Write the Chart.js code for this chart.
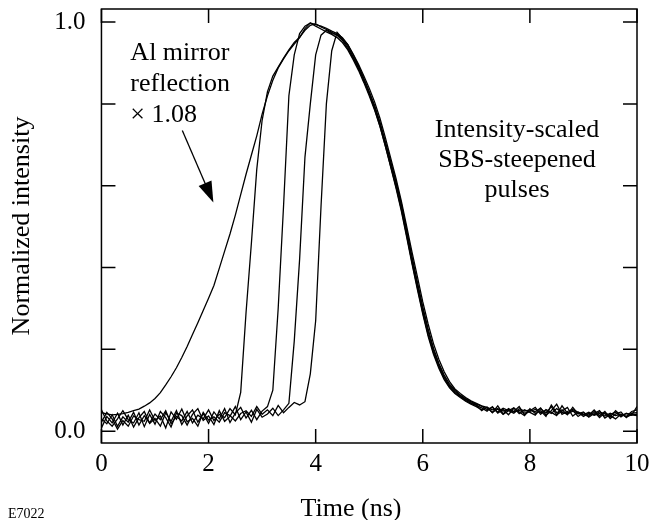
<!DOCTYPE html>
<html>
<head>
<title>SBS-steepened pulses</title>
<script src="https://cdn.jsdelivr.net/npm/chart.js@4.4.1/dist/chart.umd.min.js"></script>
<style>
    body { margin: 0; background: #ffffff; }
</style>
</head>
<body>
<canvas id="pulseChart" width="662" height="520"></canvas>

<script>
    /////// Data ///////
    const timeNs = [
        0.0,0.1,0.2,0.3,0.4,0.5,0.6,0.7,0.8,0.9,
        1.0,1.1,1.2,1.3,1.4,1.5,1.6,1.7,1.8,1.9,
        2.0,2.1,2.2,2.3,2.4,2.5,2.6,2.7,2.8,2.9,
        3.0,3.1,3.2,3.3,3.4,3.5,3.6,3.7,3.8,3.9,
        4.0,4.1,4.2,4.3,4.4,4.5,4.6,4.7,4.8,4.9,
        5.0,5.1,5.2,5.3,5.4,5.5,5.6,5.7,5.8,5.9,
        6.0,6.1,6.2,6.3,6.4,6.5,6.6,6.7,6.8,6.9,
        7.0,7.1,7.2,7.3,7.4,7.5,7.6,7.7,7.8,7.9,
        8.0,8.1,8.2,8.3,8.4,8.5,8.6,8.7,8.8,8.9,
        9.0,9.1,9.2,9.3,9.4,9.5,9.6,9.7,9.8,9.9,
        10.0
    ];

    // Al mirror reflection x 1.08
    const alMirror = [
        0.045,0.042,0.040,0.041,0.043,0.046,0.050,0.054,0.061,0.069,
        0.080,0.094,0.113,0.133,0.155,0.180,0.207,0.236,0.265,0.295,
        0.325,0.356,0.398,0.440,0.482,0.528,0.578,0.628,0.675,0.722,
        0.775,0.820,0.858,0.888,0.910,0.930,0.946,0.962,0.984,0.998,
        0.994,0.990,0.985,0.978,0.972,0.962,0.945,0.922,0.897,0.868,
        0.838,0.805,0.765,0.718,0.668,0.618,0.562,0.500,0.437,0.377,
        0.316,0.262,0.214,0.176,0.145,0.121,0.103,0.092,0.082,0.074,
        0.068,0.062,0.058,0.052,0.055,0.049,0.053,0.047,0.051,0.044,
        0.048,0.053,0.045,0.050,0.043,0.055,0.046,0.042,0.049,0.044,
        0.040,0.046,0.039,0.043,0.037,0.044,0.038,0.041,0.036,0.048,
        0.052
    ];

    // SBS-steepened pulses, intensity-scaled
    const sbsPulse1 = [
        0.030,0.018,0.040,0.012,0.035,0.022,0.046,0.015,0.038,0.020,
        0.042,0.028,0.050,0.018,0.036,0.025,0.048,0.020,0.039,0.030,
        0.052,0.026,0.041,0.033,0.055,0.040,0.095,0.290,0.460,0.640,
        0.760,0.830,0.868,0.890,0.912,0.932,0.950,0.963,0.980,0.992,
        0.996,0.988,0.982,0.975,0.968,0.955,0.935,0.912,0.886,0.856,
        0.824,0.788,0.746,0.698,0.646,0.594,0.538,0.474,0.408,0.346,
        0.286,0.232,0.188,0.154,0.126,0.106,0.092,0.082,0.073,0.066,
        0.060,0.052,0.058,0.046,0.054,0.041,0.050,0.057,0.043,0.052,
        0.046,0.039,0.055,0.044,0.060,0.040,0.049,0.058,0.037,0.047,
        0.041,0.036,0.048,0.033,0.045,0.038,0.030,0.042,0.035,0.040,
        0.038
    ];
    const sbsPulse2 = [
        0.008,0.036,0.020,0.044,0.015,0.039,0.010,0.033,0.048,0.019,
        0.031,0.012,0.045,0.024,0.050,0.016,0.037,0.052,0.022,0.043,
        0.019,0.047,0.030,0.055,0.021,0.044,0.058,0.032,0.051,0.028,
        0.049,0.060,0.100,0.300,0.550,0.820,0.920,0.972,0.990,0.998,
        0.990,0.983,0.976,0.970,0.962,0.950,0.932,0.908,0.882,0.852,
        0.820,0.785,0.745,0.697,0.648,0.598,0.542,0.478,0.412,0.350,
        0.290,0.236,0.192,0.158,0.129,0.108,0.094,0.084,0.075,0.068,
        0.063,0.057,0.049,0.060,0.044,0.053,0.040,0.056,0.047,0.038,
        0.055,0.043,0.050,0.036,0.064,0.045,0.052,0.040,0.058,0.042,
        0.047,0.034,0.043,0.050,0.032,0.041,0.046,0.035,0.044,0.039,
        0.060
    ];
    const sbsPulse3 = [
        0.052,0.025,0.012,0.030,0.050,0.028,0.020,0.045,0.011,0.041,
        0.017,0.048,0.033,0.010,0.044,0.038,0.015,0.041,0.055,0.026,
        0.037,0.016,0.050,0.024,0.036,0.060,0.028,0.047,0.022,0.053,
        0.034,0.042,0.056,0.038,0.052,0.068,0.220,0.420,0.670,0.800,
        0.920,0.968,0.980,0.972,0.970,0.958,0.940,0.915,0.890,0.860,
        0.828,0.793,0.752,0.705,0.655,0.605,0.550,0.486,0.420,0.358,
        0.298,0.244,0.198,0.162,0.133,0.111,0.097,0.086,0.077,0.070,
        0.064,0.050,0.059,0.045,0.062,0.042,0.055,0.048,0.060,0.040,
        0.050,0.058,0.041,0.053,0.046,0.038,0.062,0.044,0.051,0.036,
        0.045,0.039,0.052,0.037,0.048,0.031,0.042,0.047,0.033,0.044,
        0.045
    ];
    const sbsPulse4 = [
        0.022,0.046,0.030,0.005,0.026,0.012,0.037,0.028,0.024,0.052,
        0.026,0.037,0.008,0.047,0.029,0.054,0.023,0.031,0.012,0.046,
        0.027,0.035,0.022,0.045,0.038,0.025,0.043,0.050,0.036,0.060,
        0.041,0.052,0.038,0.063,0.045,0.058,0.070,0.064,0.072,0.140,
        0.270,0.550,0.800,0.930,0.975,0.960,0.945,0.920,0.893,0.862,
        0.830,0.796,0.755,0.708,0.660,0.610,0.556,0.492,0.426,0.364,
        0.304,0.250,0.203,0.166,0.137,0.115,0.100,0.088,0.079,0.072,
        0.066,0.061,0.053,0.058,0.047,0.056,0.050,0.044,0.055,0.049,
        0.052,0.047,0.057,0.039,0.050,0.066,0.041,0.048,0.053,0.046,
        0.036,0.044,0.040,0.047,0.042,0.035,0.050,0.038,0.043,0.041,
        0.040
    ];

    const xTickValues = [0, 2, 4, 6, 8, 10];
    const yTickValues = [0, 0.2, 0.4, 0.6, 0.8, 1.0];
    const yLabelled = [0, 1.0];

    const serif = "'Liberation Serif', 'Times New Roman', serif";

    /////// Frame, inward ticks and text labels ///////
    const frameAndLabels = {
        id: "frameAndLabels",
        afterDatasetsDraw(chart) {
            const { ctx, chartArea: { left, right, top, bottom }, scales: { x, y } } = chart;
            ctx.save();
            ctx.strokeStyle = "#000";
            ctx.fillStyle = "#000";
            ctx.lineWidth = 1.5;
            ctx.strokeRect(left, top, right - left, bottom - top);

            ctx.beginPath();
            for (const t of xTickValues) {
                const px = x.getPixelForValue(t);
                ctx.moveTo(px, bottom); ctx.lineTo(px, bottom - 14);
                ctx.moveTo(px, top); ctx.lineTo(px, top + 14);
            }
            for (const v of yTickValues) {
                const py = y.getPixelForValue(v);
                ctx.moveTo(left, py); ctx.lineTo(left + 14, py);
                ctx.moveTo(right, py); ctx.lineTo(right - 14, py);
            }
            ctx.stroke();

            // notes
            ctx.font = "26px " + serif;
            ctx.textBaseline = "alphabetic";
            ctx.textAlign = "left";
            const ax = x.getPixelForValue(0.54);
            const ay = y.getPixelForValue(0.907);
            ctx.fillText("Al mirror", ax, ay);
            ctx.fillText("reflection", ax, ay + 31);
            ctx.fillText("\u00d7 1.08", ax, ay + 62);

            ctx.textAlign = "center";
            const bx = x.getPixelForValue(7.76);
            const by = y.getPixelForValue(0.718);
            ctx.fillText("Intensity-scaled", bx, by);
            ctx.fillText("SBS-steepened", bx, by + 30);
            ctx.fillText("pulses", bx, by + 60);

            // arrow
            const x0 = x.getPixelForValue(1.51), y0 = y.getPixelForValue(0.735);
            const x1 = x.getPixelForValue(2.09), y1 = y.getPixelForValue(0.559);
            const ang = Math.atan2(y1 - y0, x1 - x0);
            ctx.lineWidth = 1.3;
            ctx.beginPath();
            ctx.moveTo(x0, y0);
            ctx.lineTo(x1 - 18 * Math.cos(ang), y1 - 18 * Math.sin(ang));
            ctx.stroke();
            ctx.beginPath();
            ctx.moveTo(x1, y1);
            ctx.lineTo(x1 - 21 * Math.cos(ang) + 7 * Math.sin(ang), y1 - 21 * Math.sin(ang) - 7 * Math.cos(ang));
            ctx.lineTo(x1 - 21 * Math.cos(ang) - 7 * Math.sin(ang), y1 - 21 * Math.sin(ang) + 7 * Math.cos(ang));
            ctx.closePath();
            ctx.fill();

            // x axis title and figure number
            ctx.font = "26px " + serif;
            ctx.textAlign = "center";
            ctx.fillText("Time (ns)", x.getPixelForValue(4.66), 516);
            ctx.font = "14px " + serif;
            ctx.textAlign = "left";
            ctx.fillText("E7022", 8, 518);
            ctx.restore();
        }
    };

    function series(values) {
        return {
            data: values.map((v, i) => ({ x: timeNs[i], y: v })),
            borderColor: "#000",
            borderWidth: 1.3,
            pointRadius: 0,
            tension: 0,
            fill: false
        };
    }

    new Chart("pulseChart", {
        type: "line",
        data: {
            datasets: [series(alMirror), series(sbsPulse1), series(sbsPulse2), series(sbsPulse3), series(sbsPulse4)]
        },
        options: {
            responsive: false,
            animation: false,
            layout: { padding: { left: 3, right: 25, top: 9, bottom: 35 } },
            plugins: { legend: { display: false }, tooltip: { enabled: false } },
            scales: {
                x: {
                    type: "linear",
                    min: 0,
                    max: 10,
                    grid: { display: false, drawTicks: false },
                    border: { display: false },
                    afterBuildTicks: (scale) => { scale.ticks = xTickValues.map(v => ({ value: v })); },
                    ticks: {
                        padding: 6,
                        color: "#000",
                        font: { family: serif, size: 25 },
                        maxRotation: 0,
                        callback: (v) => String(v)
                    }
                },
                y: {
                    min: -0.029,
                    max: 1.032,
                    // gap between labels and frame comes from the (undrawn) tick length
                    grid: { display: false, drawTicks: true, tickLength: 16 },
                    border: { display: false },
                    afterBuildTicks: (scale) => { scale.ticks = yTickValues.map(v => ({ value: v })); },
                    ticks: {
                        padding: 0,
                        color: "#000",
                        font: { family: serif, size: 25, lineHeight: 0.5 },
                        callback: (v) => yLabelled.includes(v) ? v.toFixed(1) : ""
                    },
                    title: {
                        display: true,
                        text: "Normalized intensity",
                        color: "#000",
                        font: { family: serif, size: 26 },
                        padding: { top: 4, bottom: 16 }
                    }
                }
            }
        },
        plugins: [frameAndLabels]
    });
</script>
</body>
</html>
